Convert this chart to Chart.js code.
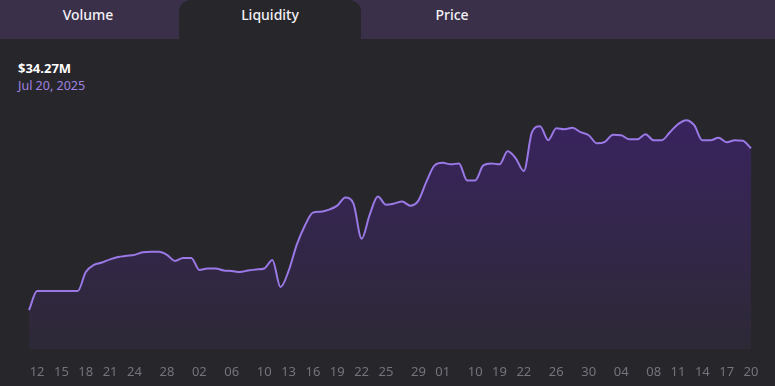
<!DOCTYPE html>
<html>
<head>
<meta charset="utf-8">
<script src="https://cdn.jsdelivr.net/npm/chart.js@4"></script>
<style>
  html, body { margin: 0; padding: 0; }
  body {
    width: 775px; height: 386px; overflow: hidden;
    background: #27262b;
    font-family: "Noto Sans", Lato, sans-serif;
    position: relative;
  }
  #tabs {
    position: absolute; left: 0; top: 0; width: 775px; height: 39px;
    background: #3a3049;
  }
  .tab {
    position: absolute; top: 0; width: 182px; height: 39px;
    line-height: 29px; text-align: center;
    color: #f2f0f5; font-size: 14px; font-weight: 500;
  }
  .tab.active { background: #27262b; border-radius: 12px 12px 0 0; }
  #amount {
    position: absolute; left: 18px; top: 59px;
    color: #ffffff; font-size: 13px; font-weight: 700;
  }
  #date {
    position: absolute; left: 18px; top: 77px;
    color: #a083e0; font-size: 12.5px;
  }
  #chart-box { position: absolute; left: 0; top: 95px; width: 775px; height: 307px; }
</style>
</head>
<body>
  <div id="tabs">
    <div class="tab" style="left:-3px">Volume</div>
    <div class="tab active" style="left:179px">Liquidity</div>
    <div class="tab" style="left:361px">Price</div>
  </div>
  <div id="amount">$34.27M</div>
  <div id="date">Jul 20, 2025</div>
  <div id="chart-box"><canvas id="liquidity-chart"></canvas></div>

<script>
// daily points, Apr 11 -> Jul 20 2025 (some days in June are missing)
const dates = [
  "04-11","04-12","04-13","04-14","04-15","04-16","04-17","04-18","04-19","04-20",
  "04-21","04-22","04-23","04-24","04-25","04-26","04-27","04-28","04-29","04-30",
  "05-01","05-02","05-03","05-04","05-05","05-06","05-07","05-08","05-09","05-10",
  "05-11","05-12","05-13","05-14","05-15","05-16","05-17","05-18","05-19","05-20",
  "05-21","05-22","05-23","05-24","05-25","05-26","05-27","05-28","05-29","05-30",
  "05-31","06-01","06-03","06-05","06-08","06-10","06-13","06-16","06-19","06-20",
  "06-21","06-22","06-23","06-24","06-25","06-26","06-27","06-28","06-29","06-30",
  "07-01","07-02","07-03","07-04","07-05","07-06","07-07","07-08","07-09","07-10",
  "07-11","07-12","07-13","07-14","07-15","07-16","07-17","07-18","07-19","07-20"
];

// liquidity in $M
const liquidity = [
  6.68, 9.94, 9.94, 9.94, 9.94, 9.94, 9.94, 13.19, 14.39, 14.82,
  15.34, 15.76, 15.94, 16.11, 16.54, 16.62, 16.62, 16.11, 15.08, 15.59,
  15.59, 13.54, 13.79, 13.79, 13.45, 13.37, 13.19, 13.45, 13.62, 13.79,
  15.25, 10.62, 13.37, 17.82, 21.08, 23.30, 23.47, 23.82, 24.50, 25.87,
  24.85, 18.85, 22.96, 26.05, 24.67, 24.85, 25.19, 24.50, 25.36, 28.62,
  31.36, 31.79, 31.53, 31.70, 28.79, 28.79, 31.36, 31.70, 31.53, 33.76,
  32.56, 30.41, 37.01, 38.04, 35.64, 37.70, 37.53, 37.78, 37.01, 36.50,
  35.13, 35.38, 36.58, 36.50, 35.81, 35.81, 36.67, 35.64, 35.64, 37.01,
  38.38, 39.07, 38.21, 35.64, 35.64, 36.07, 35.30, 35.64, 35.56, 34.27
];

// dates that get a label under the axis
const tickDates = [
  "04-12","04-15","04-18","04-21","04-24","04-28","05-02","05-06","05-10","05-13",
  "05-16","05-19","05-22","05-25","05-29","06-01","06-10","06-19","06-22","06-26",
  "06-30","07-04","07-08","07-11","07-14","07-17","07-20"
];

const canvas = document.getElementById('liquidity-chart');

new Chart(canvas, {
  type: 'line',
  data: {
    labels: dates,
    datasets: [{
      data: liquidity,
      borderColor: '#9a78e6',
      borderWidth: 2,
      pointRadius: 0,
      cubicInterpolationMode: 'monotone',
      fill: 'start',
      backgroundColor: (ctx) => {
        const area = ctx.chart.chartArea;
        if (!area) return 'rgba(60,36,100,0.6)';
        const g = ctx.chart.ctx.createLinearGradient(0, area.top, 0, area.bottom);
        g.addColorStop(0, '#3a2362');
        g.addColorStop(1, '#2d2936');
        return g;
      }
    }]
  },
  options: {
    responsive: true,
    maintainAspectRatio: false,
    animation: false,
    layout: { padding: { left: 29, right: 24, top: 5, bottom: 7 } },
    plugins: { legend: { display: false }, tooltip: { enabled: false } },
    scales: {
      x: {
        offset: false,
        grid: { display: false, drawTicks: false },
        border: { display: false },
        ticks: {
          autoSkip: false,
          maxRotation: 0,
          padding: 15,
          color: '#75737c',
          font: { family: 'Noto Sans', size: 13 },
          callback: function (value) {
            const d = dates[value];
            return tickDates.includes(d) ? d.slice(3) : null;
          }
        }
      },
      y: {
        display: false,
        min: 0,
        max: 42.5
      }
    }
  }
});
</script>
</body>
</html>
